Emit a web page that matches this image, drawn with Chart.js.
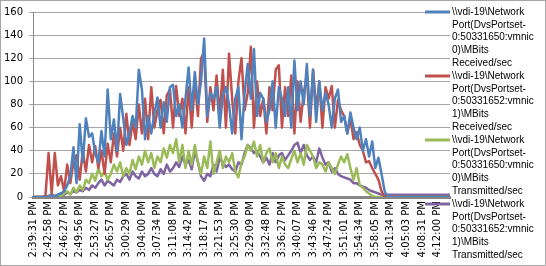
<!DOCTYPE html>
<html lang="en">
<head>
<meta charset="UTF-8">
<title>vdi-19 network port MBits/sec</title>
<script src="https://cdn.jsdelivr.net/npm/chart.js"></script>
<style>
  html, body { margin: 0; padding: 0; background: #fff; }
  #wrap { width: 546px; height: 266px; position: relative; }
</style>
</head>
<body>
<div id="wrap"><canvas id="myChart"></canvas></div>
<script>
// one tick label every 5 samples
const tickLabels = ['2:39:31 PM','2:42:58 PM','2:46:27 PM','2:49:56 PM','2:53:27 PM','2:56:57 PM',
  '3:00:29 PM','3:04:00 PM','3:07:34 PM','3:11:08 PM','3:14:42 PM','3:18:17 PM','3:21:53 PM',
  '3:25:30 PM','3:29:09 PM','3:32:48 PM','3:36:27 PM','3:40:07 PM','3:43:46 PM','3:47:24 PM',
  '3:51:01 PM','3:54:34 PM','3:58:05 PM','4:01:34 PM','4:05:03 PM','4:08:31 PM','4:12:00 PM'];

const seriesNames = [
  '\\\\vdi-19\\Network Port(DvsPortset-0:50331650:vmnic0)\\MBits Received/sec',
  '\\\\vdi-19\\Network Port(DvsPortset-0:50331652:vmnic1)\\MBits Received/sec',
  '\\\\vdi-19\\Network Port(DvsPortset-0:50331650:vmnic0)\\MBits Transmitted/sec',
  '\\\\vdi-19\\Network Port(DvsPortset-0:50331652:vmnic1)\\MBits Transmitted/sec'
];
// how the legend wraps them
const legendLines = [
  ['\\\\vdi-19\\Network','Port(DvsPortset-','0:50331650:vmnic','0)\\MBits','Received/sec'],
  ['\\\\vdi-19\\Network','Port(DvsPortset-','0:50331652:vmnic','1)\\MBits','Received/sec'],
  ['\\\\vdi-19\\Network','Port(DvsPortset-','0:50331650:vmnic','0)\\MBits','Transmitted/sec'],
  ['\\\\vdi-19\\Network','Port(DvsPortset-','0:50331652:vmnic','1)\\MBits','Transmitted/sec']
];
const colors = ['#4f81bd','#c0504d','#9bbb59','#8064a2'];

const rx0 = [
  0,0,0,0,0,0,1,0,2,3,
  5,10,18,43,12,63,30,68,52,55,
  38,30,57,35,93,50,67,40,89,68,
  45,55,70,60,110,93,50,70,55,72,
  86,60,82,65,95,97,70,80,60,85,
  112,75,108,80,100,137,70,90,85,95,
  60,88,95,80,55,85,95,50,90,115,
  85,128,70,90,85,65,75,100,60,95,
  85,70,95,60,118,75,100,80,115,70,
  110,65,100,75,90,80,60,85,93,65,
  70,55,73,60,50,60,40,50,35,48,
  25,34,20,5,0,0,0,0,0,0,
  0,0,0,0,0,0,0,0,0,0,
  0,0,0,0,0];
const rx1 = [
  0,0,0,0,1,38,3,38,10,18,
  5,28,12,30,36,15,40,22,45,30,
  44,25,40,20,46,30,55,35,60,40,
  72,45,65,50,80,55,85,50,95,60,
  75,84,55,88,93,60,96,70,85,55,
  95,60,100,70,120,125,65,95,75,105,
  70,110,60,124,85,55,100,120,75,90,
  130,60,100,70,85,55,95,75,110,114,
  60,95,70,105,55,100,65,90,105,60,
  110,75,100,60,95,85,96,60,84,75,
  70,55,68,50,56,45,40,30,31,25,
  20,15,5,0,0,0,0,0,0,0,
  0,0,0,0,0,0,0,0,0,0,
  0,0,0,0,0];
const tx0 = [
  0,0,0,0,0,0,1,0,2,1,
  3,5,2,8,4,10,6,15,12,20,
  14,25,18,22,15,20,28,22,30,18,
  25,20,32,24,35,28,40,30,38,25,
  35,30,42,34,45,38,50,30,45,25,
  40,28,45,30,20,35,25,48,20,30,
  40,25,35,30,38,22,17,30,35,45,
  40,48,35,45,30,38,42,30,38,25,
  35,28,25,33,40,30,38,28,45,40,
  35,25,30,28,22,30,25,20,28,35,
  30,37,25,15,25,10,8,5,3,1,
  0,0,0,0,0,0,0,0,0,0,
  0,0,0,0,0,0,0,0,0,0,
  0,0,0,0,0];
const tx1 = [
  0,0,0,0,0,1,2,1,2,3,
  2,4,3,5,4,6,5,8,6,10,
  8,12,15,10,14,12,10,15,13,18,
  20,15,22,18,16,22,18,20,25,20,
  18,24,20,28,22,25,30,26,35,28,
  32,24,40,30,18,14,20,18,28,22,
  34,30,26,28,24,22,30,28,38,45,
  42,38,40,35,30,34,28,38,30,36,
  38,32,36,40,45,47,38,45,36,32,
  35,30,42,34,28,30,22,25,20,18,
  17,16,15,12,12,10,9,8,6,5,
  4,3,2,2,2,2,2,2,2,2,
  2,2,2,2,2,2,2,2,2,2,
  2,2,2,2,2];

const allSeries = [rx0, rx1, tx0, tx1];

Chart.defaults.font.family = 'DejaVu Sans';
Chart.defaults.font.size = 10;
Chart.defaults.color = '#000';

const frame = {
  id: 'frame',
  beforeDraw(chart) {
    const c = chart.ctx;
    c.save();
    c.fillStyle = '#fff';
    c.fillRect(0, 0, chart.width, chart.height);
    c.strokeStyle = '#a6a6a6';
    c.lineWidth = 1;
    c.strokeRect(0.5, 0.5, chart.width - 1, chart.height - 1);
    c.restore();
  }
};

// legend on the right, wrapped like excel does it
const sideLegend = {
  id: 'sideLegend',
  afterDraw(chart) {
    const c = chart.ctx;
    c.save();
    c.font = '10px "Liberation Sans"';
    c.textBaseline = 'middle';
    c.fillStyle = '#000';
    chart.data.datasets.forEach((ds, i) => {
      const y0 = 12 + i * 64;
      c.strokeStyle = ds.borderColor;
      c.lineWidth = 3;
      c.beginPath();
      c.moveTo(425, y0);
      c.lineTo(450, y0);
      c.stroke();
      legendLines[i].forEach((t, j) => c.fillText(t, 452, y0 + j * 12.8));
    });
    c.restore();
  }
};

new Chart(document.getElementById('myChart'), {
  type: 'line',
  data: {
    datasets: allSeries.map((arr, i) => ({
      label: seriesNames[i],
      data: arr.map((v, k) => ({ x: k, y: v })),
      borderColor: colors[i],
      backgroundColor: colors[i],
      borderWidth: 2.5,
      borderJoinStyle: 'round',
      pointRadius: 0,
      tension: 0
    }))
  },
  options: {
    responsive: true,
    maintainAspectRatio: false,
    animation: false,
    layout: { padding: { top: 7, right: 96, bottom: 0, left: 0 } },
    plugins: { legend: { display: false }, tooltip: { enabled: false } },
    scales: {
      x: {
        type: 'linear',
        min: 0,
        max: rx0.length - 1,
        afterFit: s => { s.height = 69; },
        grid: { display: false, drawTicks: false },
        border: { color: '#868686', width: 3 },
        ticks: {
          stepSize: 5,
          autoSkip: false,
          minRotation: 90,
          maxRotation: 90,
          padding: 4,
          callback: v => (v % 5 === 0 && tickLabels[v / 5]) ? tickLabels[v / 5] : ''
        }
      },
      y: {
        min: 0,
        max: 160,
        afterFit: s => { s.width = 33; },
        grid: { color: '#a6a6a6', tickLength: 4 },
        border: { color: '#868686', width: 1 },
        ticks: { stepSize: 20, padding: 6 }
      }
    }
  },
  plugins: [frame, sideLegend]
});
</script>
</body>
</html>
